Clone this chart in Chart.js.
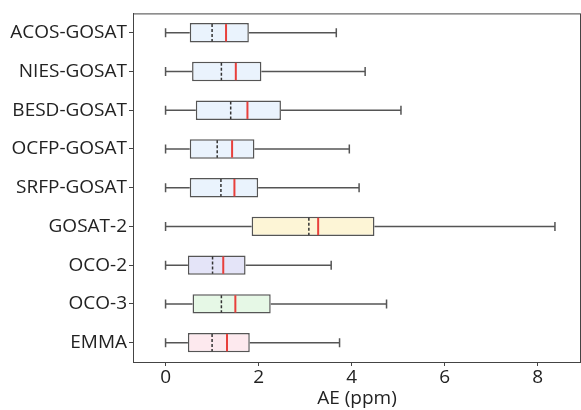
<!DOCTYPE html>
<html><head><meta charset="utf-8">
<script src="https://cdn.jsdelivr.net/npm/chart.js@4"></script>
<style>html,body{margin:0;padding:0;background:#fff}#w{width:581px;height:410px}</style>
</head><body><div id="w"><canvas id="c" width="581" height="410"></canvas></div>
<script>
const categories = ["ACOS-GOSAT","NIES-GOSAT","BESD-GOSAT","OCFP-GOSAT","SRFP-GOSAT","GOSAT-2","OCO-2","OCO-3","EMMA"];
const whiskerLow = [0,0,0,0,0,0,0,0,0];
const q1 =        [0.52,0.57,0.65,0.52,0.52,1.85,0.48,0.58,0.48];
const meanVal =   [1.00,1.20,1.40,1.11,1.19,3.08,1.01,1.20,1.00];
const medianVal = [1.30,1.51,1.76,1.43,1.48,3.28,1.24,1.50,1.32];
const q3 =        [1.79,2.06,2.48,1.91,1.99,4.49,1.72,2.26,1.81];
const whiskerHigh=[3.67,4.29,5.06,3.95,4.16,8.37,3.56,4.75,3.74];
const xTicks = [0,2,4,6,8];
const boxColors = ["#eaf3fd","#eaf3fd","#eaf3fd","#eaf3fd","#eaf3fd","#fdf5d6","#e4e4f8","#e6f8e6","#fde9ee"];

const FONT = "'Open Sans', sans-serif";
const edge = "#555";

const boxPlugin = {
  id: 'boxparts',
  afterDatasetsDraw(chart) {
    const ctx = chart.ctx, xs = chart.scales.x, ys = chart.scales.y;
    const meta = chart.getDatasetMeta(0);
    ctx.save();
    categories.forEach((c, i) => {
      const y = ys.getPixelForValue(i);
      const h = meta.data[i].height;
      const px = v => xs.getPixelForValue(v);
      ctx.strokeStyle = edge; ctx.lineWidth = 1.5; ctx.setLineDash([]);
      ctx.beginPath();
      ctx.moveTo(px(whiskerLow[i]), y); ctx.lineTo(px(q1[i]), y);
      ctx.moveTo(px(q3[i]), y); ctx.lineTo(px(whiskerHigh[i]), y);
      ctx.moveTo(px(whiskerLow[i]), y - 4.5); ctx.lineTo(px(whiskerLow[i]), y + 4.5);
      ctx.moveTo(px(whiskerHigh[i]), y - 4.5); ctx.lineTo(px(whiskerHigh[i]), y + 4.5);
      ctx.stroke();
      ctx.strokeStyle = "#333"; ctx.lineWidth = 1.5; ctx.setLineDash([3, 2]);
      ctx.beginPath();
      ctx.moveTo(px(meanVal[i]), y - h / 2 + 1); ctx.lineTo(px(meanVal[i]), y + h / 2 - 1);
      ctx.stroke();
      ctx.setLineDash([]);
      ctx.strokeStyle = "#e8403c"; ctx.lineWidth = 2;
      ctx.beginPath();
      ctx.moveTo(px(medianVal[i]), y - h / 2 + 1); ctx.lineTo(px(medianVal[i]), y + h / 2 - 1);
      ctx.stroke();
    });
    const a = chart.chartArea;
    ctx.strokeStyle = "#444"; ctx.lineWidth = 1; ctx.setLineDash([]);
    ctx.strokeRect(a.left + 0.5, a.top + 0.5, a.right - a.left - 1, a.bottom - a.top);
    ctx.restore();
  }
};

new Chart(document.getElementById('c'), {
  type: 'bar',
  data: {
    labels: categories,
    datasets: [{
      data: q1.map((v, i) => [v, q3[i]]),
      backgroundColor: boxColors,
      borderColor: edge,
      borderWidth: 1.5,
      borderSkipped: false,
      barPercentage: 0.5,
      categoryPercentage: 1.0
    }]
  },
  options: {
    indexAxis: 'y',
    responsive: false,
    animation: false,
    layout: { padding: { left: 0, right: 0, top: 13, bottom: 0 } },
    plugins: { legend: { display: false }, tooltip: { enabled: false } },
    scales: {
      x: {
        type: 'linear', min: -0.7, max: 8.93,
        afterBuildTicks: s => { s.ticks = xTicks.map(v => ({ value: v })); },
        afterFit: s => { s.height = 48; },
        grid: { display: true, drawOnChartArea: false, drawTicks: true, tickLength: 4, color: '#444' },
        border: { display: true, color: '#444' },
        ticks: { color: '#222', font: { family: FONT, size: 19 }, padding: 0, maxRotation: 0 },
        title: { display: true, text: 'AE (ppm)', color: '#222', font: { family: FONT, size: 19 }, padding: { top: 0, bottom: 0 } }
      },
      y: {
        afterFit: s => { s.width = 133; },
        grid: { display: true, offset: false, drawOnChartArea: false, drawTicks: true, tickLength: 4, color: '#444' },
        border: { display: true, color: '#444' },
        ticks: { color: '#222', font: { family: FONT, size: 19 }, padding: 2 }
      }
    }
  },
  plugins: [boxPlugin]
});
</script></body></html>
